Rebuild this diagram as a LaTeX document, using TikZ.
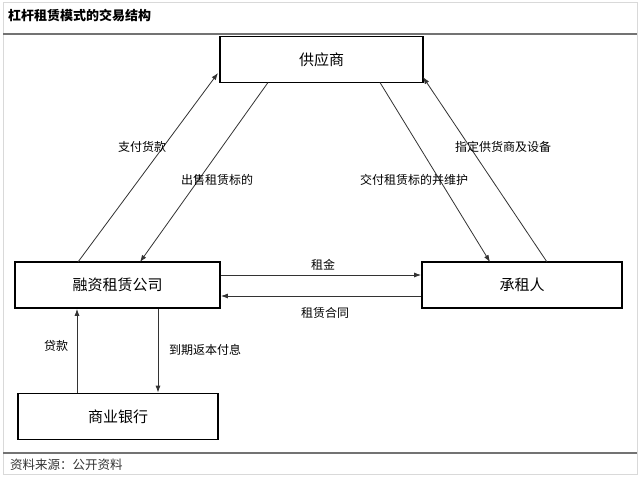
\documentclass[tikz,border=0pt]{standalone}
\usepackage{fontspec}
\setmainfont{Noto Sans CJK SC}
\usetikzlibrary{arrows.meta}
\begin{document}
\begin{tikzpicture}[x=1pt,y=-1pt,
  box/.style={draw=black,line width=1.8pt,fill=white,minimum width=#1,minimum height=46pt,inner sep=0pt,font=\fontsize{15}{15}\selectfont},
  box/.default=203pt,
  conn/.style={draw=black!80,line width=0.8pt,-{Latex[length=7pt,width=5pt]}},
  lab/.style={font=\fontsize{12}{12}\selectfont,inner sep=0pt}]
\useasboundingbox (0,0) rectangle (640,477);
\fill[white] (0,0) rectangle (640,477);
\draw[black!15,line width=0.8pt] (3,2) rectangle (637,474);
\draw[black!55,line width=1.2pt] (3,34) -- (637,34);
\draw[black!55,line width=1.2pt] (3,453) -- (637,453);
\node[anchor=west,font=\fontsize{13}{13}\selectfont\bfseries,inner sep=0pt] (title) at (8,16) {杠杆租赁模式的交易结构};
\node[anchor=west,font=\fontsize{12.5}{12.5}\selectfont,inner sep=0pt,text=black!80] (src) at (10,465) {资料来源：公开资料};
% boxes
\node[box] (sup) at (321.5,59.5) {供应商};
\node[box=205pt] (fin) at (117.5,285) {融资租赁公司};
\node[box=200pt] (les) at (522,285) {承租人};
\node[box=200pt] (bank) at (118,416.5) {商业银行};
% coordinates on box borders
\coordinate (a1) at (78,262);
\coordinate (a2) at (218,73);
\coordinate (b1) at (268,82.5);
\coordinate (b2) at (140,262);
\coordinate (c1) at (380,82.5);
\coordinate (c2) at (490,262);
\coordinate (d1) at (547,262);
\coordinate (d2) at (423,77);
\draw[conn] (a1) -- (a2);
\draw[conn] (b1) -- (b2);
\draw[conn] (c1) -- (c2);
\draw[conn] (d1) -- (d2);
\draw[conn] (fin.east |- 0,275) -- (les.west |- 0,275);
\draw[conn] (les.west |- 0,296) -- (fin.east |- 0,296);
\draw[conn] (bank.north -| 77,0) -- (fin.south -| 77,0);
\draw[conn] (fin.south -| 158,0) -- (bank.north -| 158,0);
% labels
\node[lab] (l1) at (142,147) {支付货款};
\node[lab] (l2) at (217,180) {出售租赁标的};
\node[lab] (l3) at (414,180) {交付租赁标的并维护};
\node[lab] (l4) at (503,147) {指定供货商及设备};
\node[lab] (l5) at (323,265) {租金};
\node[lab] (l6) at (325,313) {租赁合同};
\node[lab] (l7) at (56,346) {贷款};
\node[lab] (l8) at (205,350) {到期返本付息};
\end{tikzpicture}
\end{document}
